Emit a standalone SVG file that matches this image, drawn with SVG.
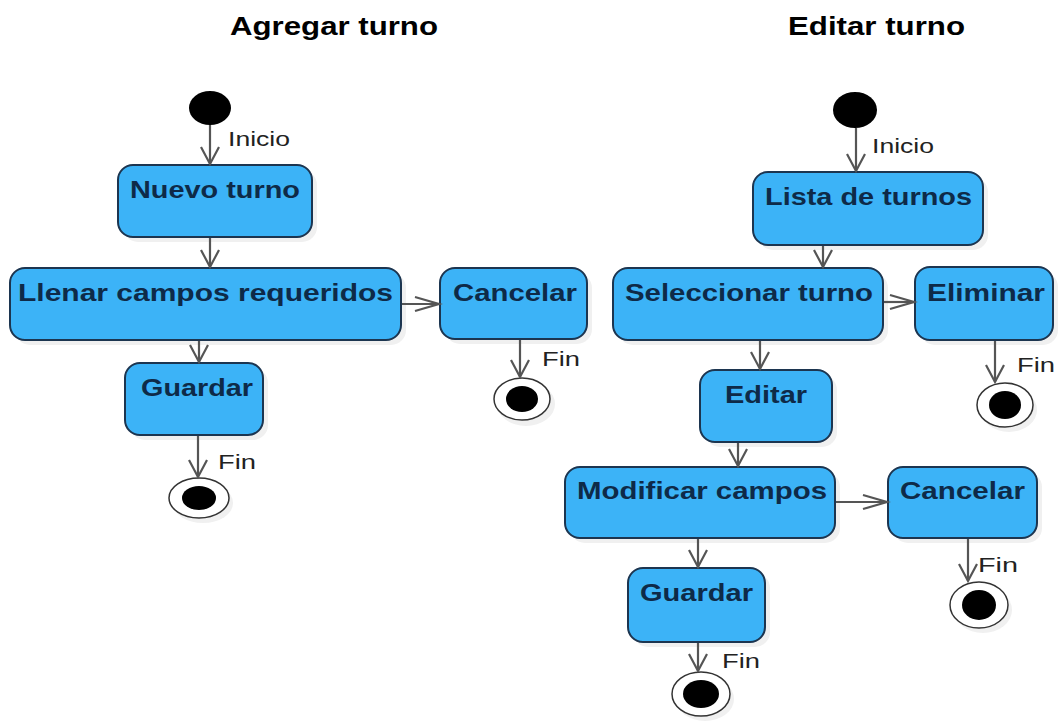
<svg xmlns="http://www.w3.org/2000/svg" width="1059" height="723" viewBox="0 0 1059 723">
  <style>
    .title { font-family: "Liberation Sans", Arial, sans-serif; font-weight: bold; font-size: 25px; fill: #000; }
    .box { fill: #3cb3f7; stroke: #1c3550; stroke-width: 2; }
    .shadow { fill: #f0f0f0; }
    .label { font-family: "Liberation Sans", Arial, sans-serif; font-weight: bold; font-size: 24px; fill: #0e2a48; }
    .note { font-family: "Liberation Sans", Arial, sans-serif; font-size: 20px; fill: #222; }
    .flow { fill: none; stroke: #555; stroke-width: 2.2; }
    .start { fill: #000; }
    .ring { fill: #fff; stroke: #333; stroke-width: 1.5; }
    .dot { fill: #000; }
  </style>
  <defs>
    <marker id="arrV" viewBox="-20 -11 22 22" refX="0" refY="0" markerWidth="22" markerHeight="22" markerUnits="userSpaceOnUse" orient="auto" overflow="visible">
      <path d="M-17,-9 L0,0 L-17,9" fill="none" stroke="#555" stroke-width="2.2"/>
    </marker>
    <marker id="arrH" viewBox="-26 -9 28 18" refX="0" refY="0" markerWidth="28" markerHeight="18" markerUnits="userSpaceOnUse" orient="auto" overflow="visible">
      <path d="M-24,-7 L0,0 L-24,7" fill="none" stroke="#555" stroke-width="2.2"/>
    </marker>
  </defs>

  <rect width="1059" height="723" fill="#fff"/>

  <!-- Titles -->
  <text class="title" x="230" y="35" textLength="208" lengthAdjust="spacingAndGlyphs">Agregar turno</text>
  <text class="title" x="788" y="35" textLength="177" lengthAdjust="spacingAndGlyphs">Editar turno</text>

  <!-- Agregar turno -->
  <g id="a-start"><ellipse class="start" cx="210" cy="108" rx="21" ry="17"/></g>

  <g id="a-nuevo-turno">
    <rect class="shadow" x="123" y="170" width="194" height="72" rx="15"/>
    <rect class="box" x="118" y="165" width="194" height="72" rx="15"/>
    <text class="label" x="130" y="198" textLength="170" lengthAdjust="spacingAndGlyphs">Nuevo turno</text>
  </g>

  <g id="a-llenar-campos">
    <rect class="shadow" x="15" y="273" width="391" height="72" rx="15"/>
    <rect class="box" x="10" y="268" width="391" height="72" rx="15"/>
    <text class="label" x="18" y="301" textLength="375" lengthAdjust="spacingAndGlyphs">Llenar campos requeridos</text>
  </g>

  <g id="a-cancelar">
    <rect class="shadow" x="445" y="273" width="147" height="71" rx="15"/>
    <rect class="box" x="440" y="268" width="147" height="71" rx="15"/>
    <text class="label" x="453" y="301" textLength="124" lengthAdjust="spacingAndGlyphs">Cancelar</text>
  </g>

  <g id="a-cancelar-fin">
    <ellipse class="shadow" cx="526" cy="404" rx="29" ry="22"/>
    <ellipse class="ring" cx="522" cy="399" rx="28" ry="21"/>
    <ellipse class="dot" cx="522" cy="399" rx="16" ry="13"/>
  </g>

  <g id="a-guardar">
    <rect class="shadow" x="130" y="368" width="138" height="72" rx="15"/>
    <rect class="box" x="125" y="363" width="138" height="72" rx="15"/>
    <text class="label" x="141" y="396" textLength="112" lengthAdjust="spacingAndGlyphs">Guardar</text>
  </g>

  <g id="a-guardar-fin">
    <ellipse class="shadow" cx="203" cy="503" rx="30" ry="20"/>
    <ellipse class="ring" cx="199" cy="498" rx="30" ry="20"/>
    <ellipse class="dot" cx="199" cy="498" rx="17" ry="12"/>
  </g>

  <!-- Editar turno -->
  <g id="e-start"><ellipse class="start" cx="855" cy="110" rx="22" ry="18"/></g>

  <g id="e-lista-turnos">
    <rect class="shadow" x="758" y="177" width="230" height="73" rx="15"/>
    <rect class="box" x="753" y="172" width="230" height="73" rx="15"/>
    <text class="label" x="765" y="205" textLength="207" lengthAdjust="spacingAndGlyphs">Lista de turnos</text>
  </g>

  <g id="e-seleccionar-turno">
    <rect class="shadow" x="618" y="273" width="270" height="72" rx="15"/>
    <rect class="box" x="613" y="268" width="270" height="72" rx="15"/>
    <text class="label" x="625" y="301" textLength="248" lengthAdjust="spacingAndGlyphs">Seleccionar turno</text>
  </g>

  <g id="e-eliminar">
    <rect class="shadow" x="920" y="272" width="138" height="73" rx="15"/>
    <rect class="box" x="915" y="267" width="138" height="73" rx="15"/>
    <text class="label" x="927" y="301" textLength="118" lengthAdjust="spacingAndGlyphs">Eliminar</text>
  </g>

  <g id="e-eliminar-fin">
    <ellipse class="shadow" cx="1009" cy="410" rx="28" ry="22"/>
    <ellipse class="ring" cx="1005" cy="405" rx="28" ry="22"/>
    <ellipse class="dot" cx="1005" cy="405" rx="16" ry="14"/>
  </g>

  <g id="e-editar">
    <rect class="shadow" x="705" y="375" width="132" height="72" rx="15"/>
    <rect class="box" x="700" y="370" width="132" height="72" rx="15"/>
    <text class="label" x="725" y="403" textLength="82" lengthAdjust="spacingAndGlyphs">Editar</text>
  </g>

  <g id="e-modificar-campos">
    <rect class="shadow" x="570" y="472" width="270" height="71" rx="15"/>
    <rect class="box" x="565" y="467" width="270" height="71" rx="15"/>
    <text class="label" x="577" y="499" textLength="250" lengthAdjust="spacingAndGlyphs">Modificar campos</text>
  </g>

  <g id="e-cancelar">
    <rect class="shadow" x="893" y="472" width="149" height="71" rx="15"/>
    <rect class="box" x="888" y="467" width="149" height="71" rx="15"/>
    <text class="label" x="900" y="499" textLength="125" lengthAdjust="spacingAndGlyphs">Cancelar</text>
  </g>

  <g id="e-cancelar-fin">
    <ellipse class="shadow" cx="983" cy="610" rx="29" ry="23"/>
    <ellipse class="ring" cx="979" cy="605" rx="29" ry="23"/>
    <ellipse class="dot" cx="979" cy="605" rx="17" ry="15"/>
  </g>

  <g id="e-guardar">
    <rect class="shadow" x="633" y="573" width="137" height="74" rx="15"/>
    <rect class="box" x="628" y="568" width="137" height="74" rx="15"/>
    <text class="label" x="640" y="601" textLength="113" lengthAdjust="spacingAndGlyphs">Guardar</text>
  </g>

  <g id="e-guardar-fin">
    <ellipse class="shadow" cx="705" cy="699" rx="29" ry="22"/>
    <ellipse class="ring" cx="701" cy="694" rx="29" ry="22"/>
    <ellipse class="dot" cx="701" cy="694" rx="18" ry="14"/>
  </g>

  <!-- Connectors (drawn above the nodes so they meet the borders) -->
  <g id="connectors">
    <!-- Agregar turno -->
    <path class="flow" d="M210,125 L210,164" marker-end="url(#arrV)"/>
    <path class="flow" d="M210,238 L210,267" marker-end="url(#arrV)"/>
    <path class="flow" d="M402,304 L439,304" marker-end="url(#arrH)"/>
    <path class="flow" d="M520,340 L520,377" marker-end="url(#arrV)"/>
    <path class="flow" d="M199,341 L199,362" marker-end="url(#arrV)"/>
    <path class="flow" d="M198,436 L198,477" marker-end="url(#arrV)"/>
    <!-- Editar turno -->
    <path class="flow" d="M856,128 L856,171" marker-end="url(#arrV)"/>
    <path class="flow" d="M823,246 L823,267" marker-end="url(#arrV)"/>
    <path class="flow" d="M884,302 L914,302" marker-end="url(#arrH)"/>
    <path class="flow" d="M995,341 L995,382" marker-end="url(#arrV)"/>
    <path class="flow" d="M760,341 L760,369" marker-end="url(#arrV)"/>
    <path class="flow" d="M738,443 L738,466" marker-end="url(#arrV)"/>
    <path class="flow" d="M836,502 L887,502" marker-end="url(#arrH)"/>
    <path class="flow" d="M968,539 L968,581" marker-end="url(#arrV)"/>
    <path class="flow" d="M698,539 L698,567" marker-end="url(#arrV)"/>
    <path class="flow" d="M698,643 L698,671" marker-end="url(#arrV)"/>
  </g>

  <!-- Flow labels -->
  <g id="flow-labels">
    <text class="note" x="228" y="146" textLength="62" lengthAdjust="spacingAndGlyphs">Inicio</text>
    <text class="note" x="542" y="366" textLength="38" lengthAdjust="spacingAndGlyphs">Fin</text>
    <text class="note" x="218" y="469" textLength="38" lengthAdjust="spacingAndGlyphs">Fin</text>
    <text class="note" x="872" y="153" textLength="62" lengthAdjust="spacingAndGlyphs">Inicio</text>
    <text class="note" x="1017" y="372" textLength="38" lengthAdjust="spacingAndGlyphs">Fin</text>
    <text class="note" x="978" y="572" textLength="40" lengthAdjust="spacingAndGlyphs">Fin</text>
    <text class="note" x="722" y="668" textLength="38" lengthAdjust="spacingAndGlyphs">Fin</text>
  </g>
</svg>
